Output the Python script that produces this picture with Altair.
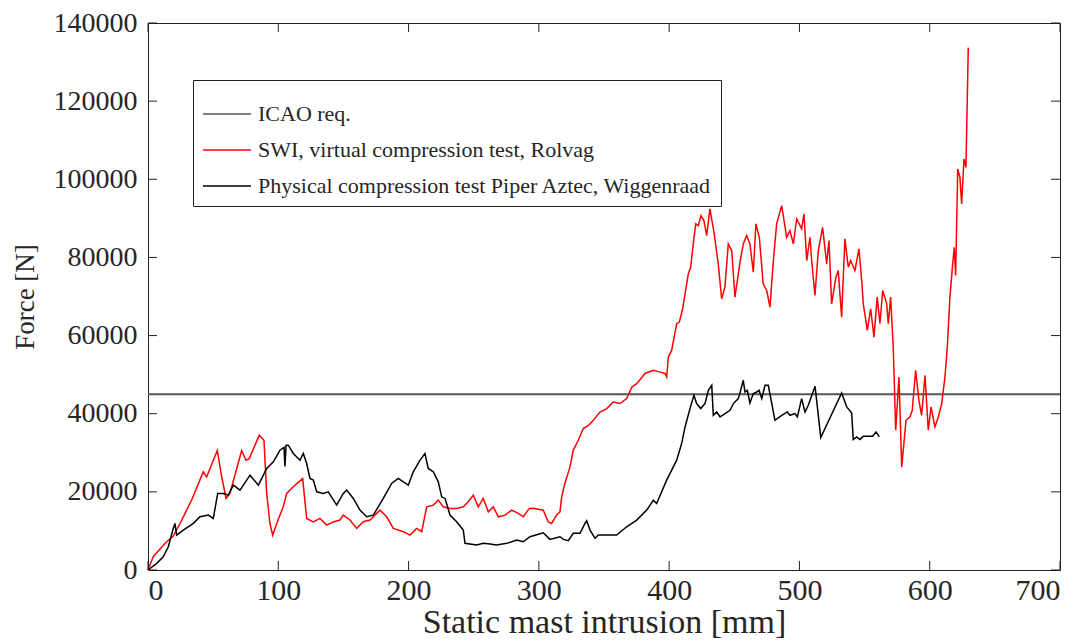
import altair as alt
import pandas as pd

# ---- data ----
SERIES = [
    "ICAO req.",
    "SWI, virtual compression test, Rolvag",
    "Physical compression test Piper Aztec, Wiggenraad",
]
COLORS = ["#555555", "#ff0000", "#000000"]

ICAO_FORCE = [45000]

RED_X = [0, 4, 13, 19.4, 24.6, 33.5, 42.4, 45, 53.2, 56.6, 59.9, 62.9, 71.9, 75.2, 77.7,
         85.4, 89, 91.1, 93.6, 95.7, 98.8, 103.8, 106.5, 111.5, 118.7, 121.8, 126.9, 132,
         137.2, 142.2, 147.4, 149.9, 155, 160.2, 165.2, 170.4, 178, 183.2, 188.3, 196, 201.1,
         206.2, 210.1, 213.9, 219, 222.8, 226.6, 231.8, 236.9, 242, 245.8, 249.7, 253.5,
         257.3, 261.2, 265, 268.9, 274, 279.2, 284.2, 288, 292.7, 295.7, 303.4, 307.2, 309.8,
         313.7, 316.2, 317.5, 320, 323.9, 326.4, 330.3, 334.1, 338, 341.8, 346.9, 352.1,
         357.1, 362.3, 367.4, 371.3, 375.1, 381.5, 387.9, 393, 396.8, 398.1, 399.4, 401.9,
         405.8, 407.8, 410.4, 412.2, 414.7, 416.5, 418.5, 420.4, 422.4, 424.4, 426.7, 428.8,
         431.3, 434.6, 437.7, 440.3, 442.8, 445.4, 448, 450.5, 454.4, 456.9, 459.5, 462,
         464.6, 466.6, 469.2, 472.2, 474.9, 477.4, 479.9, 482.5, 486.4, 490.2, 492.7, 495.3,
         497.9, 501.7, 503.5, 505.6, 508.1, 509.4, 511.9, 514.5, 517.8, 520.9, 522.7, 524.7,
         528, 529.8, 532.4, 534.9, 537.5, 539.3, 542.6, 545.7, 547.8, 549, 552.1, 554.7,
         557.2, 559.7, 561.8, 563.9, 567, 568.2, 570, 572, 573.9, 576.4, 578.5, 581.8, 584.8,
         586.6, 589.2, 591.7, 593.8, 596.4, 598.9, 601, 604, 606.6, 609.2, 611.7, 613.5,
         615.5, 617.3, 618.8, 619.9, 621.5, 623.2, 624.5, 626.3, 627.8, 629.6]
RED_Y = [0, 3400, 6800, 8700, 11900, 17900, 25100, 23800, 30600, 23800, 18300, 19600, 30600,
         28100, 28500, 34500, 33200, 19600, 11900, 8900, 11900, 16200, 19600, 21300, 23400,
         13200, 12300, 13200, 11500, 12300, 12800, 14050, 12800, 10650, 12340, 12800, 15330,
         13620, 10650, 9790, 8940, 10650, 9790, 16170, 16600, 17900, 16170, 15760, 15760,
         16170, 17450, 19160, 16170, 18320, 14900, 16170, 13620, 14050, 15330, 14490, 13620,
         15760, 15800, 15300, 12300, 11900, 14100, 14900, 18700, 22200, 26400, 30700, 33200,
         36200, 37000, 38300, 40400, 41300, 43000, 42600, 43900, 46800, 47700, 50300, 51100,
         50650, 50300, 49400, 54500, 56200, 63030, 63440, 66860, 70700, 75800, 77490, 83470,
         88580, 88140, 90700, 89420, 85590, 92410, 86020, 78360, 69420, 72380, 83470, 81760,
         69830, 78770, 83470, 85590, 83470, 76210, 88580, 85160, 73250, 71540, 67270, 78770,
         88580, 93250, 85160, 86870, 83470, 89860, 87300, 91130, 79200, 85160, 79200, 70260,
         81760, 87710, 78360, 84310, 68140, 74940, 76650, 64720, 84750, 77490, 79200, 76650,
         82190, 74090, 68140, 61320, 66860, 59610, 69830, 63030, 71540, 68140, 63030, 69830,
         57050, 35770, 49390, 26390, 38320, 39170, 40880, 51100, 43430, 39600, 49820, 35770,
         41720, 36610, 39170, 42590, 49390, 57050, 69830, 77080, 82600, 75370, 102630, 100490,
         93690, 105190, 103040, 133700]

BLK_X = [0, 6.7, 11.7, 15.6, 19.4, 20.7, 22, 27.1, 34.8, 39.9, 46.3, 50.1, 53.5, 57.8, 61.6,
         65.5, 70.6, 78.3, 84.7, 91.1, 96.2, 101.3, 104.4, 105.1, 106, 107.7, 111.5, 116.7,
         119.2, 121.8, 124.3, 126.9, 129.5, 134.5, 138.4, 144.8, 149.9, 152.5, 157.6, 162.7,
         167.8, 172.9, 180.6, 187, 192.1, 196, 199.8, 203.6, 208.8, 212.6, 215.1, 219, 222.8,
         225.4, 228, 231.8, 236.9, 242, 243.3, 252.3, 257.3, 262.5, 267.6, 275.3, 283, 288,
         293.2, 303.4, 308.5, 316.2, 318.8, 322.6, 326.4, 331.6, 335.4, 336.7, 339.3, 343.1,
         345.6, 359.7, 367.4, 375.1, 382.8, 387.9, 390.4, 398.1, 405.8, 409.6, 412.2, 416,
         419, 421.1, 424.2, 427.5, 430.1, 432.7, 433.9, 436.5, 439.1, 442.9, 446.7, 449.3,
         453.1, 454.9, 456.9, 458.2, 460, 462, 464.6, 467.2, 469, 471.1, 473.6, 476.1, 481.2,
         486.4, 490.7, 492.7, 496.6, 498.4, 501.7, 504.3, 506.8, 512, 516.4, 532.4, 536.3,
         540.1, 541.3, 543.9, 546.5, 549, 556.2, 558.8, 561.3]
BLK_Y = [0, 1710, 3400, 5950, 10650, 11930, 8940, 10220, 11930, 13620, 14050, 13210, 19600,
         19600, 19160, 21720, 20440, 24270, 21720, 25980, 27670, 30660, 31370, 26490, 31940,
         31940, 29820, 28110, 29820, 27260, 23430, 23000, 20010, 19600, 20010, 16610, 19600,
         20440, 18320, 15330, 13620, 14050, 18320, 22150, 23430, 22560, 21720, 25120, 28110,
         29820, 25980, 25120, 22560, 18730, 18320, 14050, 12340, 10220, 6820, 6390, 6820,
         6640, 6390, 6820, 7670, 7230, 8510, 9530, 7840, 8510, 7840, 7490, 9380, 9380, 11930,
         12600, 10220, 8100, 8940, 8940, 11060, 12780, 15330, 17890, 17040, 23000, 28110,
         32370, 36610, 41310, 44710, 42590, 41310, 42590, 45990, 47270, 39600, 40450, 39170,
         40040, 40880, 42590, 43870, 45990, 48550, 45560, 45990, 42750, 45150, 45560, 45990,
         43870, 47270, 47270, 38330, 39600, 40450, 39600, 40040, 39170, 43870, 40450, 42160,
         47010, 33900, 45300, 41720, 40190, 33390, 34060, 33390, 34240, 34240, 35340, 34060]

X_TICKS = [0, 100, 200, 300, 400, 500, 600, 700]
Y_TICKS = [0, 20000, 40000, 60000, 80000, 100000, 120000, 140000]

# ---- layout / style ----
W, H = 912, 547
TICK = 9
FONT = "Liberation Serif"
TXT = "#262626"

red = pd.DataFrame({"x": RED_X, "y": RED_Y, "s": SERIES[1]})
blk = pd.DataFrame({"x": BLK_X, "y": BLK_Y, "s": SERIES[2]})
icao = pd.DataFrame({"y": ICAO_FORCE, "s": [SERIES[0]]})
xt = pd.DataFrame({"x": X_TICKS})
yt = pd.DataFrame({"y": Y_TICKS})

xs = alt.Scale(domain=[0, 700], nice=False, zero=False)
ys = alt.Scale(domain=[0, 140000], nice=False)

X = alt.X("x:Q", scale=xs,
          axis=alt.Axis(values=X_TICKS, ticks=False, domain=False, grid=False,
                        labelPadding=5, labelFontSize=30, format="d",
                        title="Static mast intrusion [mm]", titleFontSize=34,
                        titlePadding=0))
Y = alt.Y("y:Q", scale=ys,
          axis=alt.Axis(values=Y_TICKS, ticks=False, domain=False, grid=False,
                        labelPadding=11, labelFontSize=28, format="d",
                        title="Force [N]", titleFontSize=27, titlePadding=14))

color = alt.Color(
    "s:N",
    scale=alt.Scale(domain=SERIES, range=COLORS),
    title=None,
    legend=alt.Legend(
        orient="none", legendX=45, legendY=57,
        symbolType="stroke", symbolSize=2304, symbolStrokeWidth=1.5,
        labelFont=FONT, labelFontSize=22, labelColor=TXT, labelLimit=800, labelOffset=6,
        strokeColor="#222222", fillColor="white", padding=9, rowPadding=-17,
    ),
)

icao_rule = alt.Chart(icao).mark_rule(strokeWidth=2).encode(y=Y, color=color)
red_line = alt.Chart(red).mark_line(strokeWidth=1.5).encode(x=X, y=Y, color=color)
blk_line = alt.Chart(blk).mark_line(strokeWidth=1.5).encode(x=X, y=Y, color=color)

tick_b = alt.Chart(xt).mark_rule(color="#222", strokeWidth=1).encode(
    x=X, y=alt.value(H), y2=alt.value(H - TICK))
tick_t = alt.Chart(xt).mark_rule(color="#222", strokeWidth=1).encode(
    x=X, y=alt.value(0), y2=alt.value(TICK))
tick_l = alt.Chart(yt).mark_rule(color="#222", strokeWidth=1).encode(
    y=Y, x=alt.value(0), x2=alt.value(TICK))
tick_r = alt.Chart(yt).mark_rule(color="#222", strokeWidth=1).encode(
    y=Y, x=alt.value(W), x2=alt.value(W - TICK))

chart = alt.layer(
    icao_rule, red_line, blk_line, tick_b, tick_t, tick_l, tick_r
).properties(
    width=W, height=H,
    padding={"left": 140, "top": 15, "right": 20, "bottom": 73},
    autosize=alt.AutoSizeParams(type="none"),
    background="white",
).configure_view(
    stroke="#222222", strokeWidth=1
).configure_axis(
    labelFont=FONT, titleFont=FONT,
    labelColor=TXT, titleColor=TXT, titleFontWeight="normal",
)

chart.save("out.html", embed_options={"renderer": "svg", "actions": False})
